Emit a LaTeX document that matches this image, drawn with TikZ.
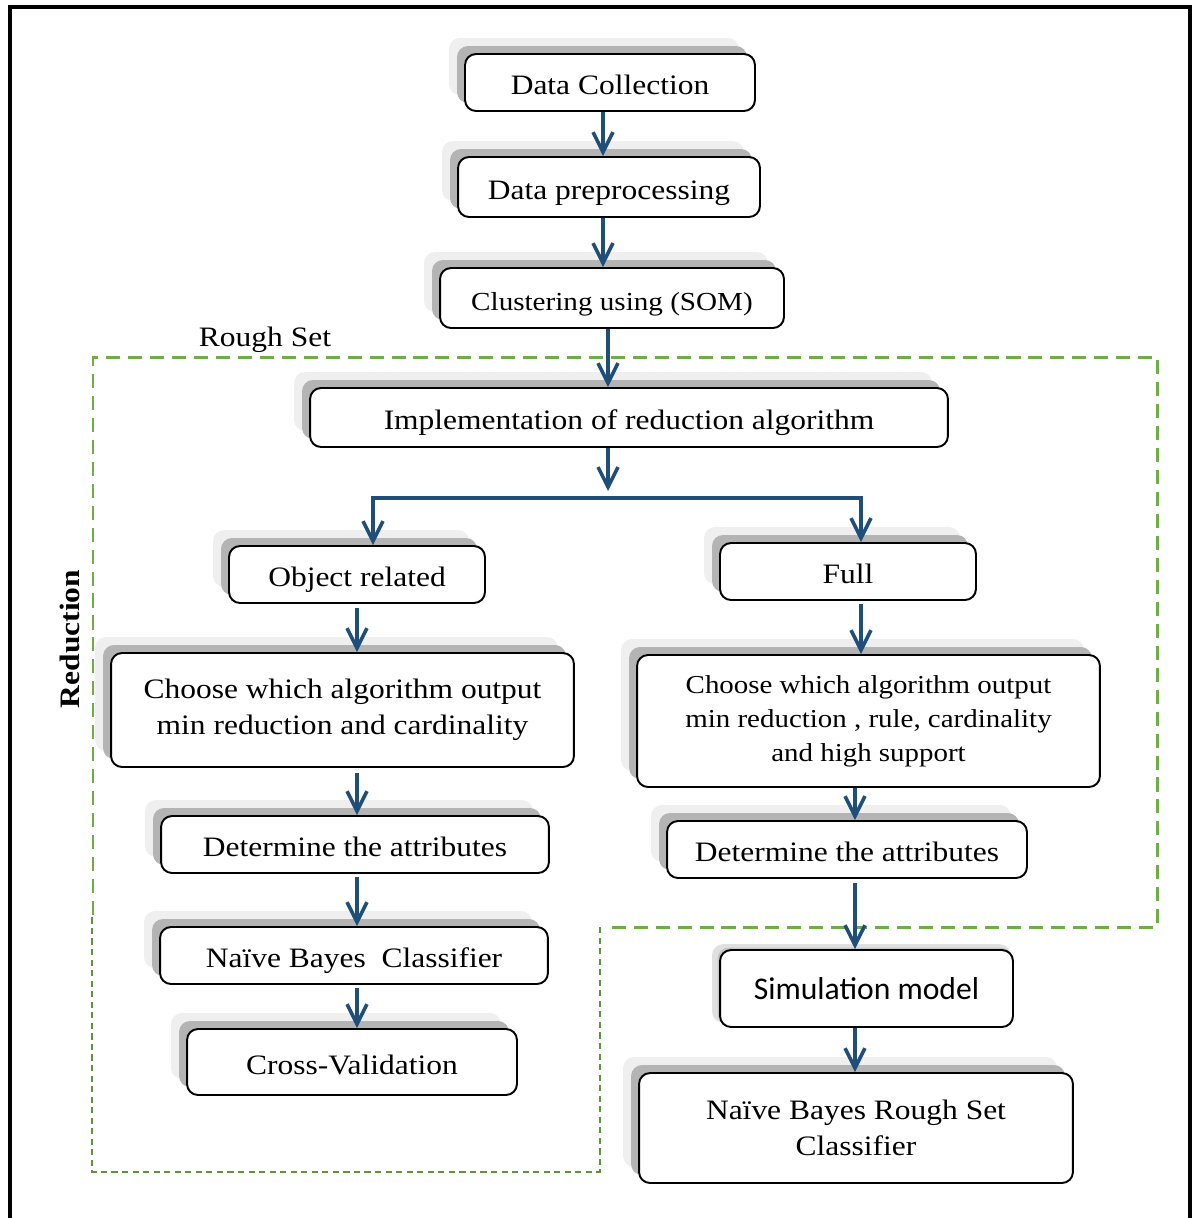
\documentclass[tikz,border=0pt]{standalone}
\usepackage{fontspec}
\setmainfont{Liberation Serif}[FakeStretch=1.12]
\newfontfamily\simfont{Carlito}
\usetikzlibrary{arrows.meta,shadows}

\definecolor{flowblue}{HTML}{1F4E79}
\definecolor{setgreen}{HTML}{70AD47}
\definecolor{shadedark}{HTML}{B4B4B4}
\definecolor{shadelight}{HTML}{EFEFEF}

\begin{document}
\begin{tikzpicture}[x=0.02cm,y=-0.02cm,
  box/.style={draw=black, line width=1.1pt, rounded corners=0.22cm, fill=white,
    align=center, inner sep=0pt, font=\fontsize{16}{20.4}\selectfont,
    general shadow={fill=shadelight, draw=none, shadow xshift=-0.32cm, shadow yshift=0.32cm},
    general shadow={fill=shadedark, draw=none, shadow xshift=-0.16cm, shadow yshift=0.16cm}},
  oneline/.style={text height=15pt, text depth=1pt},
  softbox/.style={draw=black, line width=1.1pt, rounded corners=0.22cm, fill=white,
    align=center, inner sep=0pt, font=\simfont\fontsize{18}{21}\selectfont,
    general shadow={fill=black!12, draw=none, shadow xshift=-0.10cm, shadow yshift=0.10cm, shadow scale=1.02},
    general shadow={fill=black!22, draw=none, shadow xshift=-0.05cm, shadow yshift=0.05cm}},
  flow/.style={draw=flowblue, line width=2pt, -{Straight Barb[length=0.4cm,width=0.4cm,line width=2pt]}},
  bar/.style={draw=flowblue, line width=2pt},
  roughset/.style={draw=setgreen, line width=1.7pt, dash pattern=on 8pt off 4.5pt},
  roughthin/.style={draw=setgreen!85!black, line width=0.7pt, dash pattern=on 3.5pt off 2.5pt}]

\useasboundingbox (0,0) rectangle (1197,1218);

% Outer frame (open at the bottom)
\draw[line width=2.3pt] (10,1218) -- (10,7) -- (1190,7) -- (1190,1218);

% Arrow columns
\coordinate (colT) at (603,0);
\coordinate (colM) at (608,0);
\coordinate (colL) at (357,0);
\coordinate (colR) at (855,0);
\coordinate (split) at (608,491);
\coordinate (barL) at (373,498);
\coordinate (barR) at (861,498);

% Top of the flow
\node[box, oneline, minimum width=5.8cm, minimum height=1.14cm] (collect) at (610,82.5) {Data Collection};
\node[box, oneline, minimum width=6.04cm, minimum height=1.2cm] (prep) at (609,187) {Data preprocessing};
\node[box, oneline, minimum width=6.88cm, minimum height=1.2cm, font=\fontsize{14.8}{17}\selectfont] (som) at (612,298) {Clustering using (SOM)};
\node[box, oneline, minimum width=12.76cm, minimum height=1.18cm] (reduce) at (629,417.5) {Implementation of reduction algorithm};

% Object related branch
\node[box, oneline, minimum width=5.12cm, minimum height=1.14cm] (object) at (357,574.5) {Object related};
\node[box, minimum width=9.26cm, minimum height=2.28cm] (chooseL) at (342.5,710) {Choose which algorithm output\\min reduction and cardinality};
\node[box, oneline, minimum width=7.76cm, minimum height=1.14cm] (attrL) at (355,844.5) {Determine the attributes};
\node[box, oneline, minimum width=7.76cm, minimum height=1.14cm] (bayes) at (354,955.5) {Naïve Bayes~ Classifier};
\node[box, oneline, minimum width=6.6cm, minimum height=1.32cm] (cross) at (352,1062) {Cross-Validation};

% Full branch
\node[box, oneline, minimum width=5.12cm, minimum height=1.14cm] (full) at (848,571.5) {Full};
\node[box, minimum width=9.26cm, minimum height=2.64cm, font=\fontsize{14.7}{19.3}\selectfont] (chooseR) at (868.5,721) {Choose which algorithm output\\min reduction , rule, cardinality\\and high support};
\node[box, oneline, minimum width=7.2cm, minimum height=1.14cm] (attrR) at (847,849.5) {Determine the attributes};
\node[softbox, minimum width=5.86cm, minimum height=1.54cm] (sim) at (866.5,988.5) {Simulation model};
\node[box, minimum width=8.68cm, minimum height=2.2cm] (nbrs) at (856,1128) {Naïve Bayes Rough Set\\Classifier};

% Rough set frame
\draw[roughset] (93,915) -- (93,357) -- (1157,357) -- (1157,927) -- (604,927);
\draw[roughthin] (600,927) -- (600,1172) -- (92,1172) -- (92,915);
\node[font=\fontsize{16}{18}\selectfont] (rslabel) at (265,340) {Rough Set};
\node[rotate=90, font=\fontsize{16}{18}\selectfont\bfseries] (redlabel) at (70,639) {Reduction};

% Arrows
\draw[flow] (collect.south -| colT) -- (prep.north -| colT);
\draw[flow] (prep.south -| colT) -- (som.north -| colT);
\draw[flow] (som.south -| colM) -- (reduce.north -| colM);
\draw[flow] (reduce.south -| colM) -- (split);
\draw[bar] ([xshift=-1pt]barL) -- ([xshift=1pt]barR);
\draw[flow] (barL) -- (object.north -| barL);
\draw[flow] (barR) -- (full.north -| barR);

\draw[flow] ([yshift=-0.08cm]object.south -| colL) -- (chooseL.north -| colL);
\draw[flow] ([yshift=-0.1cm]chooseL.south -| colL) -- (attrL.north -| colL);
\draw[flow] ([yshift=-0.06cm]attrL.south -| colL) -- (bayes.north -| colL);
\draw[flow] ([yshift=-0.06cm]bayes.south -| colL) -- (cross.north -| colL);

\draw[flow] ([yshift=-0.06cm]full.south -| barR) -- (chooseR.north -| barR);
\draw[flow] (chooseR.south -| colR) -- (attrR.north -| colR);
\draw[flow] ([yshift=-0.08cm]attrR.south -| colR) -- (sim.north -| colR);
\draw[flow] (sim.south -| colR) -- (nbrs.north -| colR);

\end{tikzpicture}
\end{document}
